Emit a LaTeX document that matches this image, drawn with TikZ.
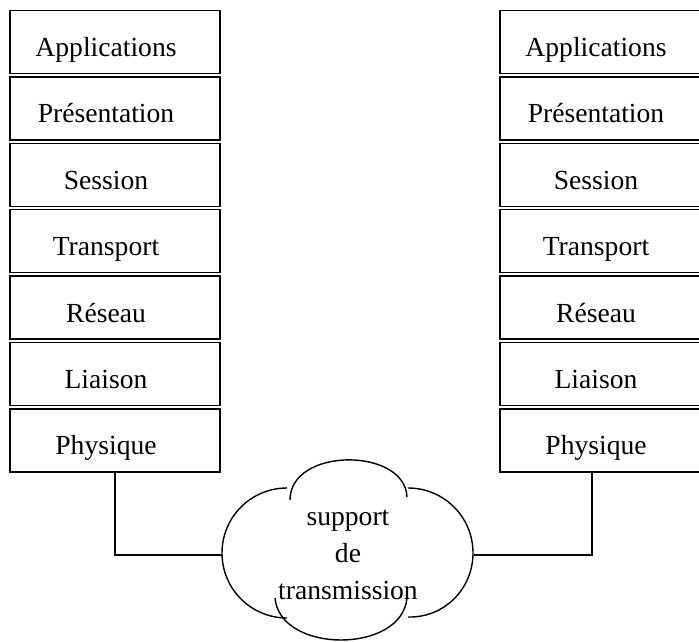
\documentclass[tikz,border=0pt]{standalone}
\usepackage{fontspec}
\setmainfont{Liberation Serif}
\usetikzlibrary{positioning}
\tikzstyle{layer} = [draw=black, line width=0.7pt, rectangle,
    minimum width=105pt, minimum height=31.5pt, inner sep=0pt,
    text height=15pt, text depth=0.5pt,
    font=\fontsize{13.8}{16}\selectfont,
    execute at begin node=\hspace*{-9pt}]
\tikzstyle{support} = [rectangle, minimum width=125.5pt, minimum height=90pt,
    inner sep=0pt, align=center, font=\fontsize{13.8}{18.5}\selectfont]
\tikzstyle{link} = [draw=black, line width=0.7pt]

\begin{document}
\begin{tikzpicture}[x=0.5pt, y=-0.5pt]
    \useasboundingbox (0,0) rectangle (699,641);
    % pile de gauche
    \node [layer] (app1) at (115,42) {Applications};
    \node [layer, below=1pt of app1] (pres1) {Présentation};
    \node [layer, below=1pt of pres1] (sess1) {Session};
    \node [layer, below=1pt of sess1] (trans1) {Transport};
    \node [layer, below=1pt of trans1] (res1) {Réseau};
    \node [layer, below=1pt of res1] (liai1) {Liaison};
    \node [layer, below=1pt of liai1] (phys1) {Physique};
    % pile de droite
    \node [layer] (app2) at (605,42) {Applications};
    \node [layer, below=1pt of app2] (pres2) {Présentation};
    \node [layer, below=1pt of pres2] (sess2) {Session};
    \node [layer, below=1pt of sess2] (trans2) {Transport};
    \node [layer, below=1pt of trans2] (res2) {Réseau};
    \node [layer, below=1pt of res2] (liai2) {Liaison};
    \node [layer, below=1pt of liai2] (phys2) {Physique};
    % nuage
    \node [support] (cloud) at (348,555) {support\\de\\transmission};
    \draw [link] (290,500) .. controls (290,447) and (405,447) .. (407,497);
    \draw [link] (287,488) .. controls (251,488) and (222,517) .. (222,553)
        .. controls (222,589) and (251,618) .. (287,618);
    \draw [link] (408,488) .. controls (444,488) and (473,517) .. (473,553)
        .. controls (473,589) and (444,618) .. (408,617);
    \draw [link] (275,598) .. controls (280,654) and (402,654) .. (407,598);
    % liaisons
    \draw [link] (phys1.south) |- (cloud.west);
    \draw [link] ([xshift=-6.5pt]phys2.south) |- (cloud.east);
\end{tikzpicture}
\end{document}
